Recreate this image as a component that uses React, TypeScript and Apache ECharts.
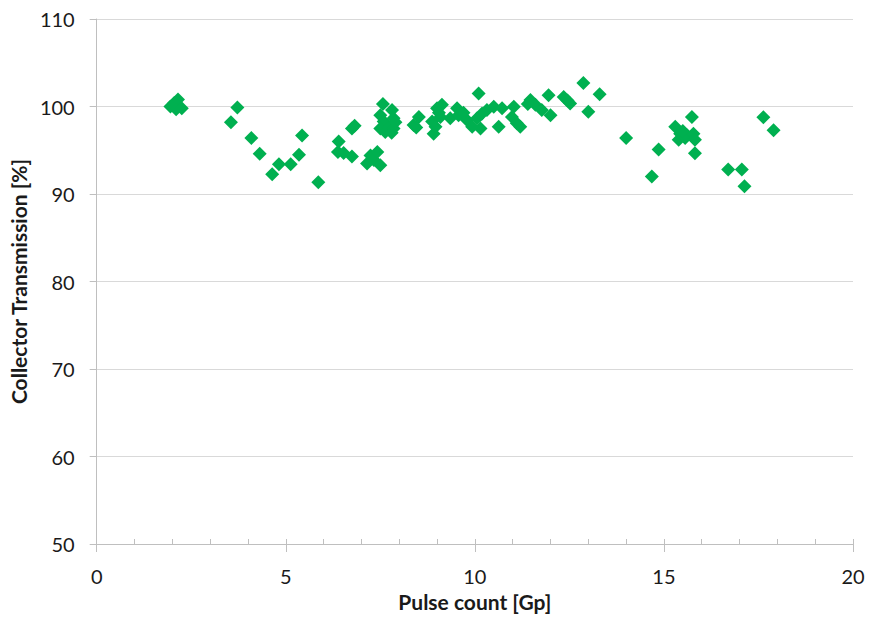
import React, { useEffect, useRef } from "react";
import * as echarts from "echarts";

const pulseCount: number[] = [
  1.95, 2.05, 2.15, 2.1, 2.25,
  3.55, 3.72, 4.09, 4.31,
  4.64, 4.82, 5.13, 5.35, 5.43, 5.86,
  6.38, 6.4, 6.53, 6.75, 6.75, 6.82,
  7.15, 7.24, 7.33, 7.42, 7.5,
  7.57, 7.5, 7.59, 7.5, 7.63, 7.72, 7.81, 7.85, 7.85, 7.8, 7.9,
  8.38, 8.52, 8.45,
  8.91, 8.87, 8.96, 9.0, 9.13, 9.09, 9.05,
  9.35, 9.53, 9.57, 9.79, 9.93, 9.7,
  10.1, 10.06, 10.15, 10.19, 10.32,
  10.5, 10.63, 10.72, 11.03, 10.98, 11.11, 11.2,
  11.47, 11.6, 11.4, 11.77, 11.95, 12.0, 12.35, 12.52, 12.45,
  12.87, 13.0, 13.3, 14.0, 14.68, 14.86,
  15.3, 15.43, 15.39, 15.56, 15.6, 15.74, 15.78, 15.82, 15.82, 15.5,
  16.7, 17.06, 17.13, 17.63, 17.9,
];

const transmission: number[] = [
  100.0, 100.4, 100.8, 99.7, 99.8,
  98.2, 99.9, 96.4, 94.6,
  92.25, 93.4, 93.4, 94.5, 96.7, 91.35,
  94.8, 96.0, 94.7, 94.3, 97.5, 97.8,
  93.5, 94.4, 93.9, 94.8, 93.3,
  100.3, 99.0, 98.3, 97.5, 97.1, 97.6, 99.6, 98.65, 97.5, 97.0, 98.2,
  97.9, 98.8, 97.6,
  96.9, 98.3, 97.7, 99.8, 100.2, 98.8, 99.3,
  98.65, 99.8, 99.0, 98.45, 97.7, 99.3,
  101.5, 98.65, 97.5, 99.2, 99.6,
  99.98, 97.7, 99.8, 99.98, 98.8, 98.1, 97.7,
  100.74, 100.2, 100.3, 99.6, 101.3, 99.0, 101.1, 100.35, 100.7,
  102.7, 99.4, 101.4, 96.4, 92.0, 95.1,
  97.7, 96.9, 96.2, 96.4, 96.75, 98.8, 96.9, 96.2, 94.65, 97.2,
  92.8, 92.8, 90.9, 98.77, 97.3,
];

const xTitle = "Pulse count [Gp]";
const yTitle = "Collector Transmission [%]";

const FONT = "Lato, 'Noto Sans', sans-serif";

export default function App() {
  const ref = useRef<HTMLDivElement>(null);
  useEffect(() => {
    if (!ref.current) return;
    const chart = echarts.init(ref.current, undefined, { renderer: "svg" });
    const points = pulseCount.map((x, i) => [x, transmission[i]]);
    chart.setOption({
      animation: false,
      backgroundColor: "#ffffff",
      grid: { left: 96, right: 16, top: 19, bottom: 75, containLabel: false },
      xAxis: [
        {
          type: "value",
          min: 0,
          max: 20,
          interval: 5,
          name: xTitle,
          nameLocation: "middle",
          nameGap: 47,
          nameTextStyle: { fontFamily: FONT, fontSize: 21, fontWeight: "bold", color: "#1a1a1a" },
          axisLine: { show: true, onZero: false, lineStyle: { color: "#bfbfbf", width: 1 } },
          axisTick: { show: true, inside: false, length: 8, lineStyle: { color: "#bfbfbf" } },
          axisLabel: { fontFamily: FONT, fontSize: 20, color: "#1a1a1a", margin: 22 },
          splitLine: { show: false },
        },
        {
          type: "value",
          min: 0,
          max: 20,
          interval: 1,
          position: "bottom",
          axisLine: { show: false },
          axisTick: { show: true, inside: true, length: 5, lineStyle: { color: "#bfbfbf" } },
          axisLabel: { show: false },
          splitLine: { show: false },
        },
      ],
      yAxis: {
        type: "value",
        min: 50,
        max: 110,
        interval: 10,
        name: yTitle,
        nameLocation: "middle",
        nameGap: 65,
        nameTextStyle: { fontFamily: FONT, fontSize: 21, fontWeight: "bold", color: "#1a1a1a" },
        axisLine: { show: true, lineStyle: { color: "#bfbfbf", width: 1 } },
        axisTick: { show: true, inside: false, length: 7, lineStyle: { color: "#bfbfbf" } },
        axisLabel: { fontFamily: FONT, fontSize: 20, color: "#1a1a1a", margin: 22 },
        splitLine: { show: true, lineStyle: { color: "#d9d9d9", width: 1 } },
      },
      series: [
        {
          type: "scatter",
          xAxisIndex: 0,
          yAxisIndex: 0,
          symbol: "diamond",
          symbolSize: 14,
          itemStyle: { color: "#00b050", opacity: 1 },
          data: points,
        },
      ],
    });
    return () => chart.dispose();
  }, []);
  return <div ref={ref} style={{ width: 869, height: 619, position: "absolute", left: 0, top: 0 }} />;
}
